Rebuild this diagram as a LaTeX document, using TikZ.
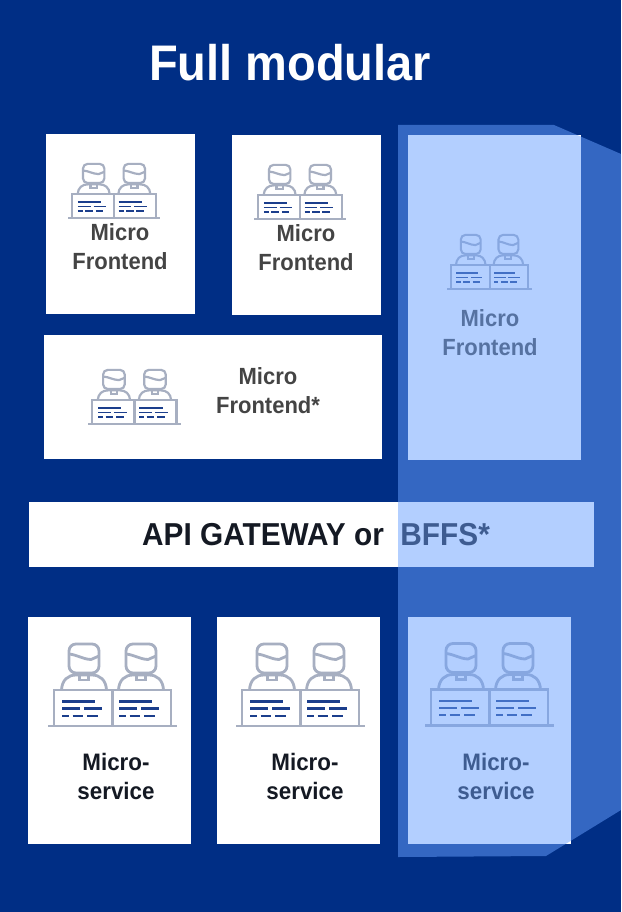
\documentclass[tikz,border=0pt]{standalone}
\usepackage{fontspec}
\setmainfont[BoldFeatures={FakeStretch=0.94}]{Liberation Sans}
\definecolor{navy}{RGB}{0,46,133}
\definecolor{overlayblue}{RGB}{104,160,255}
\definecolor{icongray}{RGB}{167,175,193}
\definecolor{iconblue}{RGB}{27,62,140}
\definecolor{txtgray}{RGB}{68,68,68}
\definecolor{txtdark}{RGB}{20,25,35}
\tikzset{
  panel/.style={fill=white,draw=none},
  mf/.style={font=\bfseries\fontsize{23.4}{29}\selectfont,text=txtgray,align=center,inner sep=0pt},
  ms/.style={font=\bfseries\fontsize{23.8}{29}\selectfont,text=txtdark,align=center,inner sep=0pt},
  gw/.style={font=\bfseries\fontsize{31.7}{34}\selectfont,text=txtdark,inner sep=0pt},
  ttl/.style={font=\bfseries\fontsize{50}{54}\selectfont,text=white,inner sep=0pt},
}
\newcommand{\oneperson}[2]{%
  \begin{scope}[shift={(#1,0)}]
    \draw[icongray,rounded corners=7pt*#2] (21,-82) rectangle (51,-53);
    \draw[icongray] (21,-72) .. controls (30,-71) and (34,-67) .. (43,-66.5) -- (51,-70);
    \draw[icongray] (31.5,-52) -- (31.5,-46) -- (40.5,-46) -- (40.5,-52);
    \draw[icongray] (13.5,-36) .. controls (14,-46) and (20,-51) .. (28,-51) -- (44,-51) .. controls (52,-51) and (58,-46) .. (58.5,-36);
    \draw[iconblue,line width=1.9pt*#2+0.3pt] (14,-24.5) -- (46.5,-24.5) (14,-17.5) -- (32,-17.5) (36,-17.5) -- (53.5,-17.5)
      (14,-10.3) -- (21,-10.3) (24.5,-10.3) -- (35,-10.3) (39,-10.3) -- (49.5,-10.3);
  \end{scope}}
% #1 left of base, #2 y of base, #3 x scale, #4 y scale
\newcommand{\deskicon}[4]{%
  \begin{scope}[shift={(#1,#2)},x=#3pt,y=-#4pt,line width=2.2pt*#3+0.6pt]
    \oneperson{0}{#4}
    \oneperson{57}{#4}
    \draw[icongray] (6,0) -- (6,-36) -- (123,-36) -- (123,0);
    \draw[icongray] (64.5,-36) -- (64.5,0);
    \draw[icongray] (0,0) -- (129,0);
  \end{scope}}
\begin{document}
\begin{tikzpicture}[x=1pt,y=-1pt]
\useasboundingbox (0,0) rectangle (621,912);
\fill[navy] (0,0) rectangle (621,912);
\node[ttl] (title) at (290,63) {Full modular};
\fill[panel] (46,134) rectangle (195,314);
\fill[panel] (232,135) rectangle (381,315);
\fill[panel] (408,135) rectangle (581,460);
\fill[panel] (44,335) rectangle (382,459);
\fill[panel] (29,502) rectangle (594,567);
\fill[panel] (28,617) rectangle (191,844);
\fill[panel] (217,617) rectangle (380,844);
\fill[panel] (408,617) rectangle (571,844);
\deskicon{68}{218}{0.713}{0.66}
\deskicon{254}{219}{0.713}{0.66}
\deskicon{447}{289}{0.66}{0.66}
\deskicon{88}{424}{0.72}{0.66}
\deskicon{48}{726}{1}{1}
\deskicon{236}{726}{1}{1}
\deskicon{425}{725.5}{1}{1}
\node[mf] (mfa) at (120,247) {Micro\\Frontend};
\node[mf] (mfb) at (306,248) {Micro\\Frontend};
\node[mf] (mfc) at (490,333) {Micro\\Frontend};
\node[mf] (mfd) at (268,391) {Micro\\Frontend*};
\node[gw] (gate) at (316,535) {API GATEWAY or\ \ BFFS*};
\node[ms] (msa) at (116,776) {Micro-\\service};
\node[ms] (msb) at (305,776) {Micro-\\service};
\node[ms] (msc) at (496,776) {Micro-\\service};
\fill[overlayblue,fill opacity=0.5] (398,125) -- (554,125) -- (621,154) -- (621,810) -- (546,856) -- (398,857) -- cycle;
\end{tikzpicture}
\end{document}
